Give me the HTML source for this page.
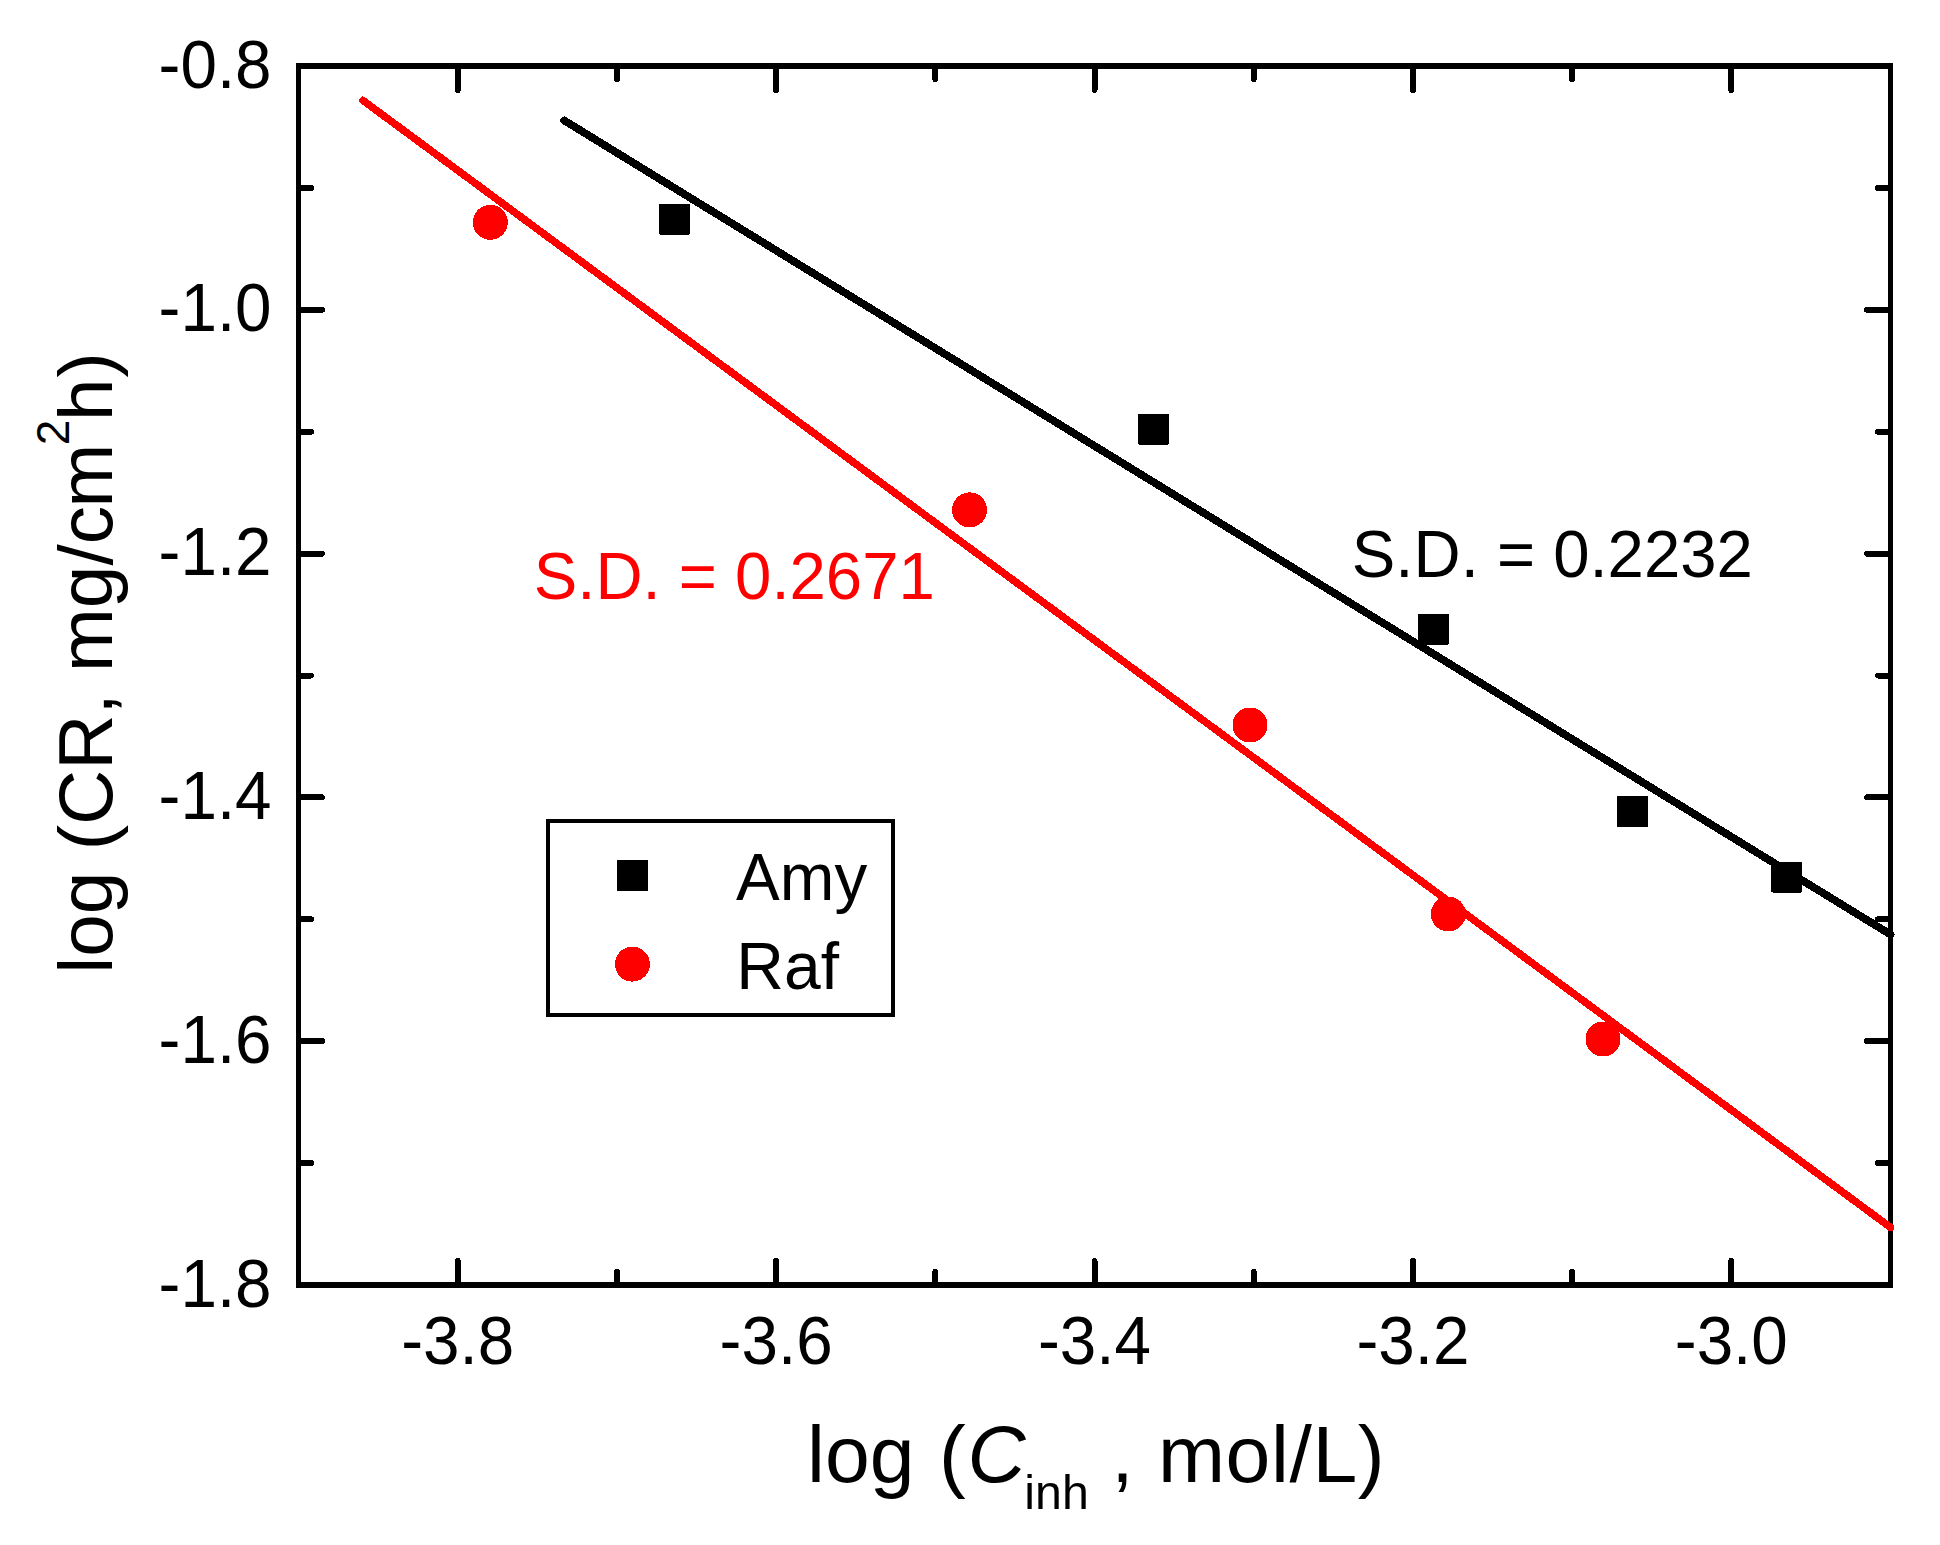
<!DOCTYPE html>
<html lang="en"><head><meta charset="utf-8"><title>log CR vs log C inh</title>
<style>html,body{margin:0;padding:0;background:#fff;}svg{display:block;}text{font-family:"Liberation Sans",sans-serif;}</style>
</head><body>
<svg width="1940" height="1545" viewBox="0 0 1940 1545">
<rect x="0" y="0" width="1940" height="1545" fill="#fff"/>
<g fill="#000" shape-rendering="crispEdges">
<rect x="296" y="63" width="5" height="1225"/>
<rect x="1888" y="63" width="5" height="1225"/>
<rect x="296" y="63" width="1597" height="6"/>
<rect x="296" y="1282" width="1597" height="6"/>
</g>
<g stroke="#000" stroke-width="6" stroke-linecap="round" fill="none" shape-rendering="crispEdges">
<line x1="457.7" y1="1283" x2="457.7" y2="1261.0"/>
<line x1="457.7" y1="68" x2="457.7" y2="90.0"/>
<line x1="616.9" y1="1283" x2="616.9" y2="1272.0"/>
<line x1="616.9" y1="68" x2="616.9" y2="79.0"/>
<line x1="776.1" y1="1283" x2="776.1" y2="1261.0"/>
<line x1="776.1" y1="68" x2="776.1" y2="90.0"/>
<line x1="935.3" y1="1283" x2="935.3" y2="1272.0"/>
<line x1="935.3" y1="68" x2="935.3" y2="79.0"/>
<line x1="1094.5" y1="1283" x2="1094.5" y2="1261.0"/>
<line x1="1094.5" y1="68" x2="1094.5" y2="90.0"/>
<line x1="1253.7" y1="1283" x2="1253.7" y2="1272.0"/>
<line x1="1253.7" y1="68" x2="1253.7" y2="79.0"/>
<line x1="1412.9" y1="1283" x2="1412.9" y2="1261.0"/>
<line x1="1412.9" y1="68" x2="1412.9" y2="90.0"/>
<line x1="1572.1" y1="1283" x2="1572.1" y2="1272.0"/>
<line x1="1572.1" y1="68" x2="1572.1" y2="79.0"/>
<line x1="1731.3" y1="1283" x2="1731.3" y2="1261.0"/>
<line x1="1731.3" y1="68" x2="1731.3" y2="90.0"/>
<line x1="300" y1="187.9" x2="311.0" y2="187.9"/>
<line x1="1889" y1="187.9" x2="1878.0" y2="187.9"/>
<line x1="300" y1="309.8" x2="322.0" y2="309.8"/>
<line x1="1889" y1="309.8" x2="1867.0" y2="309.8"/>
<line x1="300" y1="431.7" x2="311.0" y2="431.7"/>
<line x1="1889" y1="431.7" x2="1878.0" y2="431.7"/>
<line x1="300" y1="553.6" x2="322.0" y2="553.6"/>
<line x1="1889" y1="553.6" x2="1867.0" y2="553.6"/>
<line x1="300" y1="675.5" x2="311.0" y2="675.5"/>
<line x1="1889" y1="675.5" x2="1878.0" y2="675.5"/>
<line x1="300" y1="797.4" x2="322.0" y2="797.4"/>
<line x1="1889" y1="797.4" x2="1867.0" y2="797.4"/>
<line x1="300" y1="919.3" x2="311.0" y2="919.3"/>
<line x1="1889" y1="919.3" x2="1878.0" y2="919.3"/>
<line x1="300" y1="1041.2" x2="322.0" y2="1041.2"/>
<line x1="1889" y1="1041.2" x2="1867.0" y2="1041.2"/>
<line x1="300" y1="1163.1" x2="311.0" y2="1163.1"/>
<line x1="1889" y1="1163.1" x2="1878.0" y2="1163.1"/>
</g>
<g font-size="65.6" fill="#000">
<text transform="translate(271.6,87.5) scale(1,1.045)" text-anchor="end">-0.8</text>
<text transform="translate(271.6,331.3) scale(1,1.045)" text-anchor="end">-1.0</text>
<text transform="translate(271.6,575.1) scale(1,1.045)" text-anchor="end">-1.2</text>
<text transform="translate(271.6,818.9) scale(1,1.045)" text-anchor="end">-1.4</text>
<text transform="translate(271.6,1062.7) scale(1,1.045)" text-anchor="end">-1.6</text>
<text transform="translate(271.6,1306.5) scale(1,1.045)" text-anchor="end">-1.8</text>
<text transform="translate(457.7,1363.6) scale(1,1.045)" text-anchor="middle">-3.8</text>
<text transform="translate(776.1,1363.6) scale(1,1.045)" text-anchor="middle">-3.6</text>
<text transform="translate(1094.5,1363.6) scale(1,1.045)" text-anchor="middle">-3.4</text>
<text transform="translate(1412.9,1363.6) scale(1,1.045)" text-anchor="middle">-3.2</text>
<text transform="translate(1731.3,1363.6) scale(1,1.045)" text-anchor="middle">-3.0</text>
</g>
<g fill="none" stroke-linecap="round" shape-rendering="crispEdges">
<line x1="564.3" y1="120.5" x2="1890.5" y2="934.5" stroke="#000" stroke-width="7.8"/>
<line x1="362.9" y1="100.4" x2="1890.5" y2="1227.4" stroke="#f00" stroke-width="7.5"/>
</g>
<g fill="#000" shape-rendering="crispEdges">
<rect x="658.9" y="203.8" width="31" height="31" rx="1.5"/>
<rect x="1138.0" y="413.8" width="31" height="31" rx="1.5"/>
<rect x="1418.0" y="613.5" width="31" height="31" rx="1.5"/>
<rect x="1617.1" y="796.1" width="31" height="31" rx="1.5"/>
<rect x="1771.2" y="861.5" width="31" height="31" rx="1.5"/>
</g><g fill="#f00" shape-rendering="crispEdges">
<circle cx="490.3" cy="222.3" r="17.5"/>
<circle cx="969.6" cy="509.9" r="17.5"/>
<circle cx="1250" cy="725" r="17.5"/>
<circle cx="1448.3" cy="914" r="17.5"/>
<circle cx="1603" cy="1039" r="17.5"/>
</g>
<text transform="translate(1351.8,577) scale(1,1.035)" font-size="65.3" fill="#000">S.D. = 0.2232</text>
<text transform="translate(533.7,599) scale(1,1.035)" font-size="65.3" fill="#f00">S.D. = 0.2671</text>
<rect x="548" y="821" width="345" height="194" fill="#fff" stroke="#000" stroke-width="4" shape-rendering="crispEdges"/>
<rect x="617" y="860" width="31" height="31" rx="1.5" fill="#000" shape-rendering="crispEdges"/>
<circle cx="632.4" cy="964.1" r="17.5" fill="#f00" shape-rendering="crispEdges"/>
<text transform="translate(736,899.6) scale(1,1.015)" font-size="65.6" fill="#000">Amy</text>
<text transform="translate(736.3,988.6) scale(1,1.015)" font-size="66" fill="#000">Raf</text>
<text x="807.1" y="1482" font-size="80.5" fill="#000">log <tspan dx="2.1">(</tspan><tspan font-style="italic" dx="1.6">C</tspan><tspan font-size="48.3" dx="-1.2" dy="27">inh</tspan><tspan dy="-27"> ,</tspan><tspan dx="1.4" letter-spacing="0.6"> mol/L)</tspan></text>
<text transform="translate(112,973.7) rotate(-90)" font-size="76.5" fill="#000">log (CR, mg/c<tspan dx="-1.5">m</tspan><tspan font-size="45.9" dx="-1.5" dy="-43">2</tspan><tspan dx="-1.2" dy="43">h</tspan><tspan dx="0.7">)</tspan></text>
</svg></body></html>
